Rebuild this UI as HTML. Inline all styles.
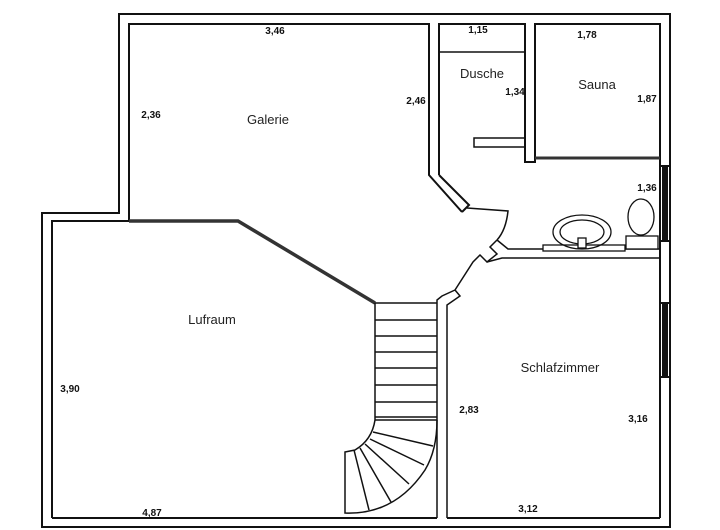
<!DOCTYPE html>
<html><head><meta charset="utf-8"><style>
html,body{margin:0;padding:0;background:#fff;}
svg{display:block;}
.n{font:bold 10px "Liberation Sans",sans-serif;fill:#111;text-anchor:middle;}
.l{font:13px "Liberation Sans",sans-serif;fill:#222;text-anchor:middle;}
</style></head><body>
<svg width="720" height="530" viewBox="0 0 720 530" xmlns="http://www.w3.org/2000/svg">
<g fill="none" stroke="#111" stroke-width="2">
<path d="M119,14 H670 V527 H42 V213 H119 Z"/>
<path d="M52,518 V221 H129"/>
<path d="M52,518 H437"/><path d="M447,518 H660"/>
<path d="M129,221 V24 H429 V175 L462,212"/>
<path d="M439,175 V24 H525 V162 H535 V24 H660 V165"/>
<path d="M439,175 L469,205 L462,212"/>
<path d="M660,242 V302"/><path d="M660,378 V518"/>
<path d="M439,52 H525" stroke-width="1.5"/>
<rect x="474" y="138" width="51" height="9" stroke-width="1.5"/>
<path d="M467,208 L508,211 Q506,230 497,240" stroke-width="1.5"/>
<path d="M497,240 L490,247 L497,254 L487,262 L480,255 L473,262 L455,290" stroke-width="1.5"/>
<path d="M497,240 L508,249 H543 M625,249 H660" stroke-width="1.5"/>
<path d="M487,262 L502,258 H660" stroke-width="1.5"/>
<path d="M455,290 L460,296 L447,305 V518 M455,290 L442,296 L437,300 V518" stroke-width="1.5"/>
</g>
<path d="M129,221 H238 L375,303" fill="none" stroke="#333" stroke-width="3.5"/>
<path d="M535,158 H660" stroke="#333" stroke-width="3"/>
<rect x="659" y="165" width="12" height="77" fill="#111"/>
<rect x="659" y="302" width="12" height="76" fill="#111"/>
<rect x="661" y="167" width="1" height="73" fill="#fff"/>
<rect x="668" y="167" width="1" height="73" fill="#fff"/>
<rect x="661" y="304" width="1" height="72" fill="#fff"/>
<rect x="668" y="304" width="1" height="72" fill="#fff"/>
<g fill="none" stroke="#111" stroke-width="1.3">
<rect x="543" y="245" width="82" height="6" fill="#fff"/>
<ellipse cx="582" cy="232" rx="29" ry="17"/>
<ellipse cx="582" cy="232" rx="22" ry="12"/>
<rect x="578" y="238" width="8" height="10" fill="#fff"/>
<ellipse cx="641" cy="217" rx="13" ry="18"/>
<rect x="626" y="236" width="32" height="13" fill="#fff"/>
</g>
<g fill="none" stroke="#111" stroke-width="1.5">
<path d="M375,303 H437 M375,303 V420 Q372,440 355,450 L345,452 V513 Q395,515 425,470 Q437,450 437,420"/>
<path d="M375,320 H437 M375,336 H437 M375,352 H437 M375,368 H437 M375,385 H437 M375,402 H437 M375,417 H437 M375,420 H437"/>
<path d="M373,432 L433,446 M370,439 L424,465 M365,444 L409,484 M360,448 L391,502 M354,450 L369,510"/>
</g>
<text class="n" x="275" y="34">3,46</text>
<text class="n" x="151" y="118">2,36</text>
<text class="l" x="268" y="124">Galerie</text>
<text class="n" x="416" y="104">2,46</text>
<text class="n" x="478" y="33">1,15</text>
<text class="l" x="482" y="78">Dusche</text>
<text class="n" x="515" y="95">1,34</text>
<text class="n" x="587" y="38">1,78</text>
<text class="l" x="597" y="89">Sauna</text>
<text class="n" x="647" y="102">1,87</text>
<text class="n" x="647" y="191">1,36</text>
<text class="l" x="212" y="324">Lufraum</text>
<text class="n" x="70" y="392">3,90</text>
<text class="n" x="469" y="413">2,83</text>
<text class="l" x="560" y="372">Schlafzimmer</text>
<text class="n" x="638" y="422">3,16</text>
<text class="n" x="152" y="516">4,87</text>
<text class="n" x="528" y="512">3,12</text>
</svg>
</body></html>
